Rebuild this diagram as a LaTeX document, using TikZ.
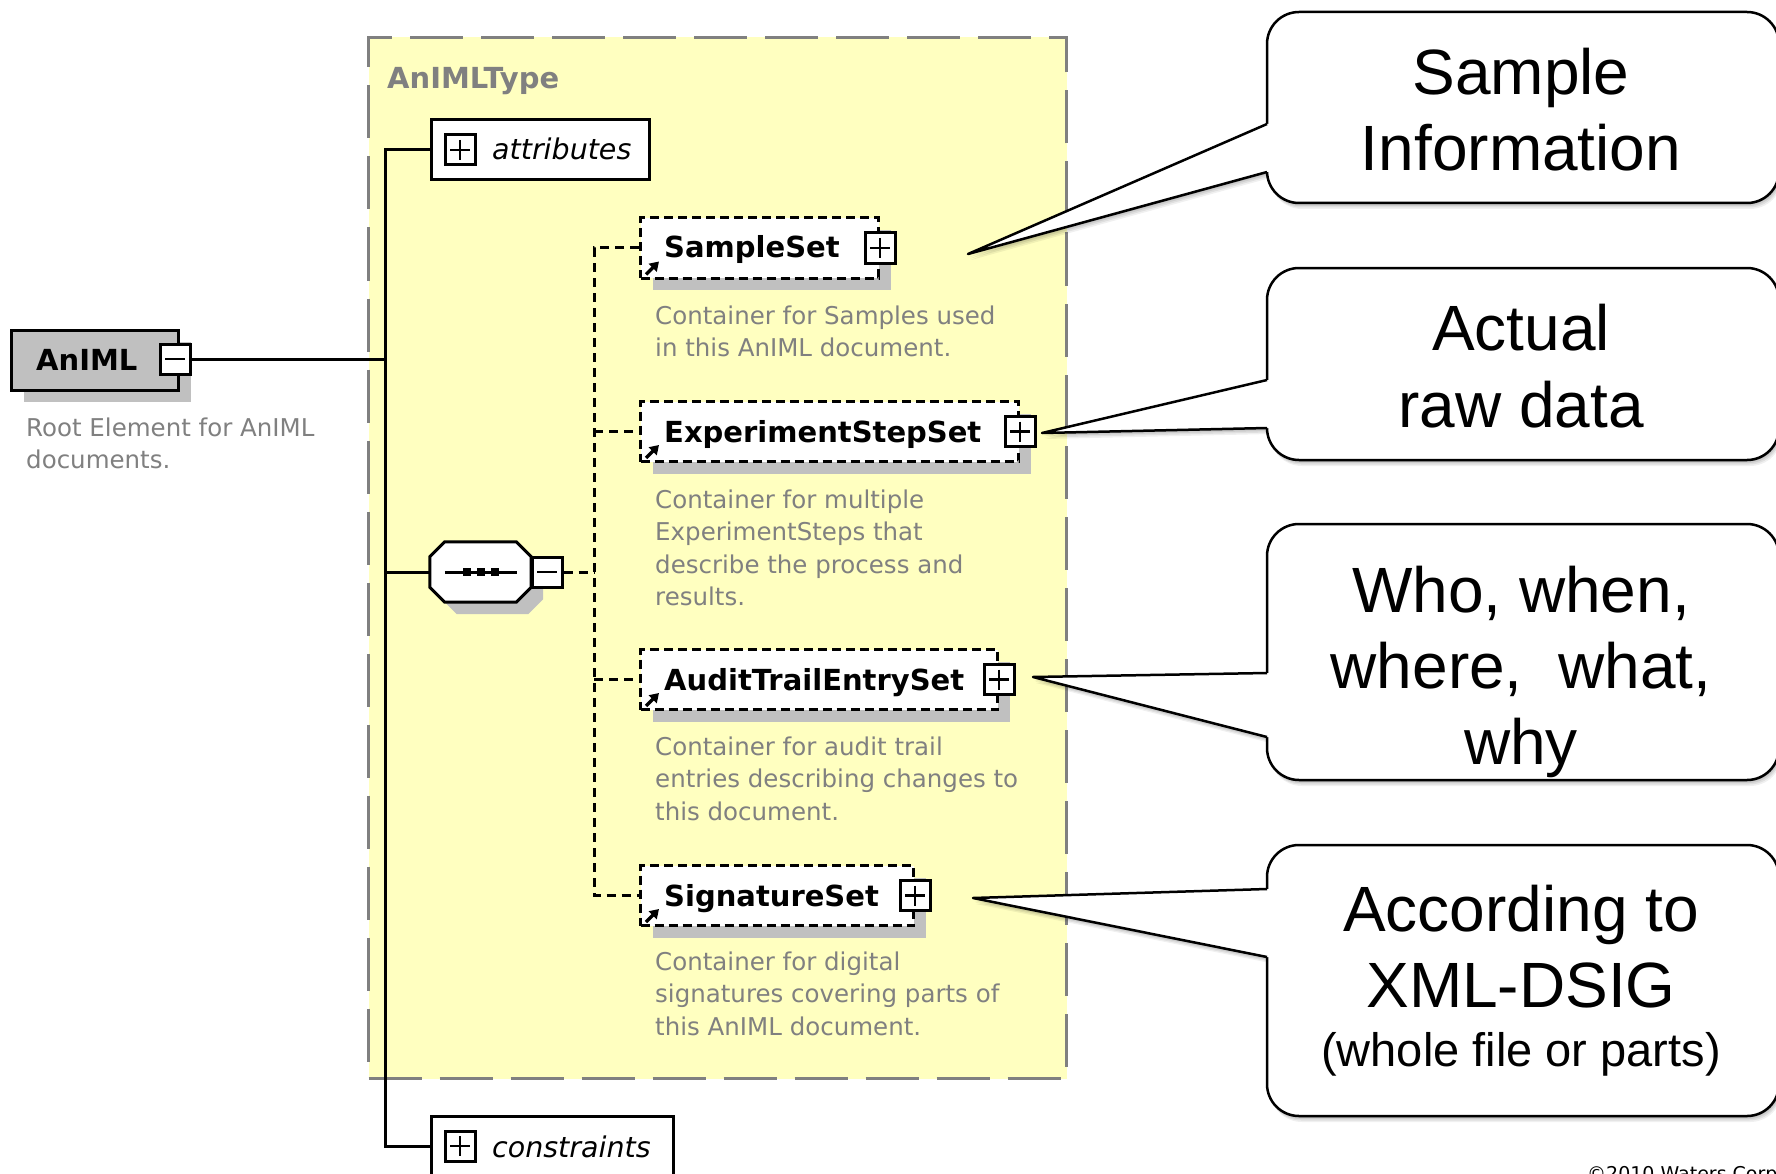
\documentclass[tikz,border=0pt]{standalone}
\usepackage{fontspec}
\setmainfont{DejaVu Sans}
\newfontfamily\calloutfont{Liberation Sans}
\usetikzlibrary{arrows.meta,calc,shadows}

\definecolor{typefill}{HTML}{FFFFC0}
\definecolor{typegray}{HTML}{808080}
\definecolor{shadegray}{HTML}{C0C0C0}

% one row of a stacked text block, left-aligned or centred
\newcommand\textrow[1]{\hbox{#1}}
\newcommand\centrerow[1]{\hbox to 480pt{\hss#1\hss}}
% a block of rows whose baseline is the baseline of its first row
\newcommand\rowstack[2]{\vtop{\baselineskip=#1\relax#2}}

% speech bubble on the right: #1 top, #2 bottom, #3/#4 upper/lower joint of the pointer, (#5,#6) its tip
\newcommand\callout[6]{%
  \foreach \d/\o in {1.5/0.09,3/0.08,4.5/0.07,6/0.06}{%
    \fill[black, opacity=\o, shift={(0.5*\d pt,-\d pt)}, rounded corners=32pt]
      (1267,#1) rectangle (1779,#2);
    \fill[black, opacity=\o, shift={(0.5*\d pt,-\d pt)}]
      (#5,#6) -- (1267,#3) -- (1267,#4) -- cycle;
  }%
  \draw[callline, fill=white, rounded corners=32pt] (1267,#1) rectangle (1779,#2);
  \fill[white] (#5,#6) -- (1267,#3) -- (1271,#3) -- (1271,#4) -- (1267,#4) -- cycle;
  \draw[callline, line join=round] (1267,#3) -- (#5,#6) -- (1267,#4);
}

\begin{document}
\begin{tikzpicture}[x=1pt,y=-1pt,
  conn/.style={line width=3pt},
  dconn/.style={line width=3pt, dash pattern=on 9pt off 6pt},
  hardshadow/.style={drop shadow={shadow xshift=12pt,shadow yshift=-12pt,fill=shadegray,opacity=1}},
  pm/.style={draw, line width=3pt, fill=white, minimum size=30pt, inner sep=0pt},
  plusbox/.style={pm, path picture={
      \draw[line width=2.5pt]
        ([xshift=5pt]path picture bounding box.west) -- ([xshift=-5pt]path picture bounding box.east)
        ([yshift=-5pt]path picture bounding box.north) -- ([yshift=5pt]path picture bounding box.south);}},
  minusbox/.style={pm, path picture={
      \draw[line width=2.5pt]
        ([xshift=5pt]path picture bounding box.west) -- ([xshift=-5pt]path picture bounding box.east);}},
  elembox/.style={draw, line width=3pt, dash pattern=on 9pt off 5pt, fill=white,
      minimum height=60pt, inner sep=0pt, anchor=west, hardshadow},
  groupbox/.style={draw, line width=3pt, fill=white, minimum height=60pt, inner sep=0pt, anchor=west},
  elemname/.style={anchor=base west, inner sep=0pt, font=\bfseries\fontsize{29}{34}\selectfont},
  groupname/.style={anchor=base west, inner sep=0pt, font=\itshape\fontsize{28.5}{34}\selectfont},
  desc/.style={anchor=base west, inner sep=0pt, text=typegray, font=\fontsize{24.5}{32.5}\selectfont},
  refarrow/.style={line width=3.5pt, -{Triangle[length=9pt,width=11pt]}},
  calltext/.style={anchor=base, inner sep=0pt, font=\calloutfont\fontsize{64}{76}\selectfont},
  callline/.style={line width=2.5pt}
]
\useasboundingbox (0,0) rectangle (1776,1174);
\clip (0,0) rectangle (1776,1174);
\fill[white] (0,0) rectangle (1776,1174);

% ---- complex type container ----
\node[draw=typegray, line width=3pt, dash pattern=on 53pt off 18pt, fill=typefill,
      minimum width=698pt, minimum height=1041pt, inner sep=0pt, anchor=north west]
      (animltype) at (367,36) {};
\node[elemname, text=typegray] (typetitle) at (387,89) {AnIMLType};

% ---- trunk of the content model ----
\coordinate (trunk) at (385,359);
\coordinate (fork) at (594,572);

\node[groupbox, minimum width=218pt] (attr) at (430,150) {};
\node[groupbox, minimum width=242pt] (cons) at (430,1146) {};
\node[minimum width=101pt, minimum height=60pt, inner sep=0pt] (seq) at (480.5,572) {};

\draw[conn] (attr.west) -| (trunk) |- (cons.west);
\draw[conn] (trunk |- seq.west) -- (seq.west);

% ---- root element ----
\node[draw, line width=3pt, fill=shadegray, minimum width=167pt, minimum height=60pt,
      inner sep=0pt, anchor=west, hardshadow] (animl) at (10,360) {};
\node[elemname] (animltxt) at (36,370) {AnIML};
\node[minusbox] (animlmin) at (175,359) {};
\draw[conn] (animlmin.east) -- (trunk);
\node[desc] (animldesc) at (26,436)
  {\rowstack{32.5pt}{\textrow{Root Element for AnIML}\textrow{documents.}}};

% ---- attributes / constraints groups ----
\node[plusbox] (attrplus) at (460,150) {};
\node[groupname] (attrtxt) at (492,160) {attributes};
\node[plusbox] (consplus) at (460,1146) {};
\node[groupname] (constxt) at (492,1157) {constraints};

% ---- sequence compositor ----
\draw[conn, fill=white, hardshadow]
  ($(seq.north west)+(15pt,0)$) -- ($(seq.north east)+(-15pt,0)$) --
  ($(seq.north east)+(0,-15pt)$) -- ($(seq.south east)+(0,15pt)$) --
  ($(seq.south east)+(-15pt,0)$) -- ($(seq.south west)+(15pt,0)$) --
  ($(seq.south west)+(0,15pt)$) -- ($(seq.north west)+(0,-15pt)$) -- cycle;
\draw[conn] ($(seq.west)+(15pt,0)$) -- ($(seq.east)+(-14pt,0)$);
\foreach \dx in {-14,0,14}
  \fill ($(seq.center)+(\dx pt,0)$) +(-4pt,-4pt) rectangle +(4pt,4pt);
\node[minusbox] (seqmin) at (547,572) {};

% ---- child elements ----
\node[elembox, minimum width=238pt] (ss)  at (639,248) {};
\node[elembox, minimum width=378pt] (es)  at (639,431.5) {};
\node[elembox, minimum width=357pt] (ats) at (639,679.5) {};
\node[elembox, minimum width=273pt] (sig) at (639,895.5) {};

\draw[dconn] (seqmin.east) -- (fork);
\draw[dconn] (ss.west) -| (fork) |- (sig.west);
\draw[dconn] (fork |- es.west) -- (es.west);
\draw[dconn] (fork |- ats.west) -- (ats.west);

\node[plusbox] (ssplus)  at (ss.east)  {};
\node[plusbox] (esplus)  at (es.east)  {};
\node[plusbox] (atsplus) at (ats.east) {};
\node[plusbox] (sigplus) at (sig.east) {};

\node[elemname] (sstxt)  at (664,258) {SampleSet};
\node[elemname] (estxt)  at (664,442) {ExperimentStepSet};
\node[elemname] (atstxt) at (664,690) {AuditTrailEntrySet};
\node[elemname] (sigtxt) at (664,906) {SignatureSet};

% reference markers in the lower left corner of each element box
\foreach \n in {ss,es,ats,sig}
  \draw[refarrow] ($(\n.south west)+(7pt,5pt)$) -- ($(\n.south west)+(20pt,18pt)$);

\node[desc] (ssdesc) at (655,324)
  {\rowstack{32.5pt}{\textrow{Container for Samples used}\textrow{in this AnIML document.}}};
\node[desc] (esdesc) at (655,508)
  {\rowstack{32.5pt}{\textrow{Container for multiple}\textrow{ExperimentSteps that}%
   \textrow{describe the process and}\textrow{results.}}};
\node[desc] (atsdesc) at (655,755)
  {\rowstack{32.5pt}{\textrow{Container for audit trail}\textrow{entries describing changes to}%
   \textrow{this document.}}};
\node[desc] (sigdesc) at (655,970)
  {\rowstack{32.5pt}{\textrow{Container for digital}\textrow{signatures covering parts of}%
   \textrow{this AnIML document.}}};

% ---- explanatory bubbles ----
\callout{12}{203}{124}{172}{968}{254}
\callout{268}{460}{380}{428}{1042}{433}
\callout{524}{780}{673}{737}{1033}{677}
\callout{845}{1116}{889}{957}{973}{898}

\node[calltext] (sampleinfo) at (1521,95)
  {\rowstack{76pt}{\centrerow{Sample}\centrerow{Information}}};
\node[calltext] (rawdata) at (1521,350)
  {\rowstack{77pt}{\centrerow{Actual}\centrerow{raw data}}};
\node[calltext] (audit) at (1521,612)
  {\rowstack{76pt}{\centrerow{Who, when,}\centrerow{where,\ \ what,}\centrerow{why}}};
\node[calltext] (dsig) at (1521,931)
  {\rowstack{76pt}{\centrerow{According to}\centrerow{XML-DSIG}\vskip-17pt
   \centrerow{\fontsize{47}{56}\selectfont (whole file or parts)}}};

\node[anchor=base west, inner sep=0pt, font=\fontsize{19}{23}\selectfont] (copyright)
  at (1587,1180) {©2010 Waters Corp};
\end{tikzpicture}
\end{document}
